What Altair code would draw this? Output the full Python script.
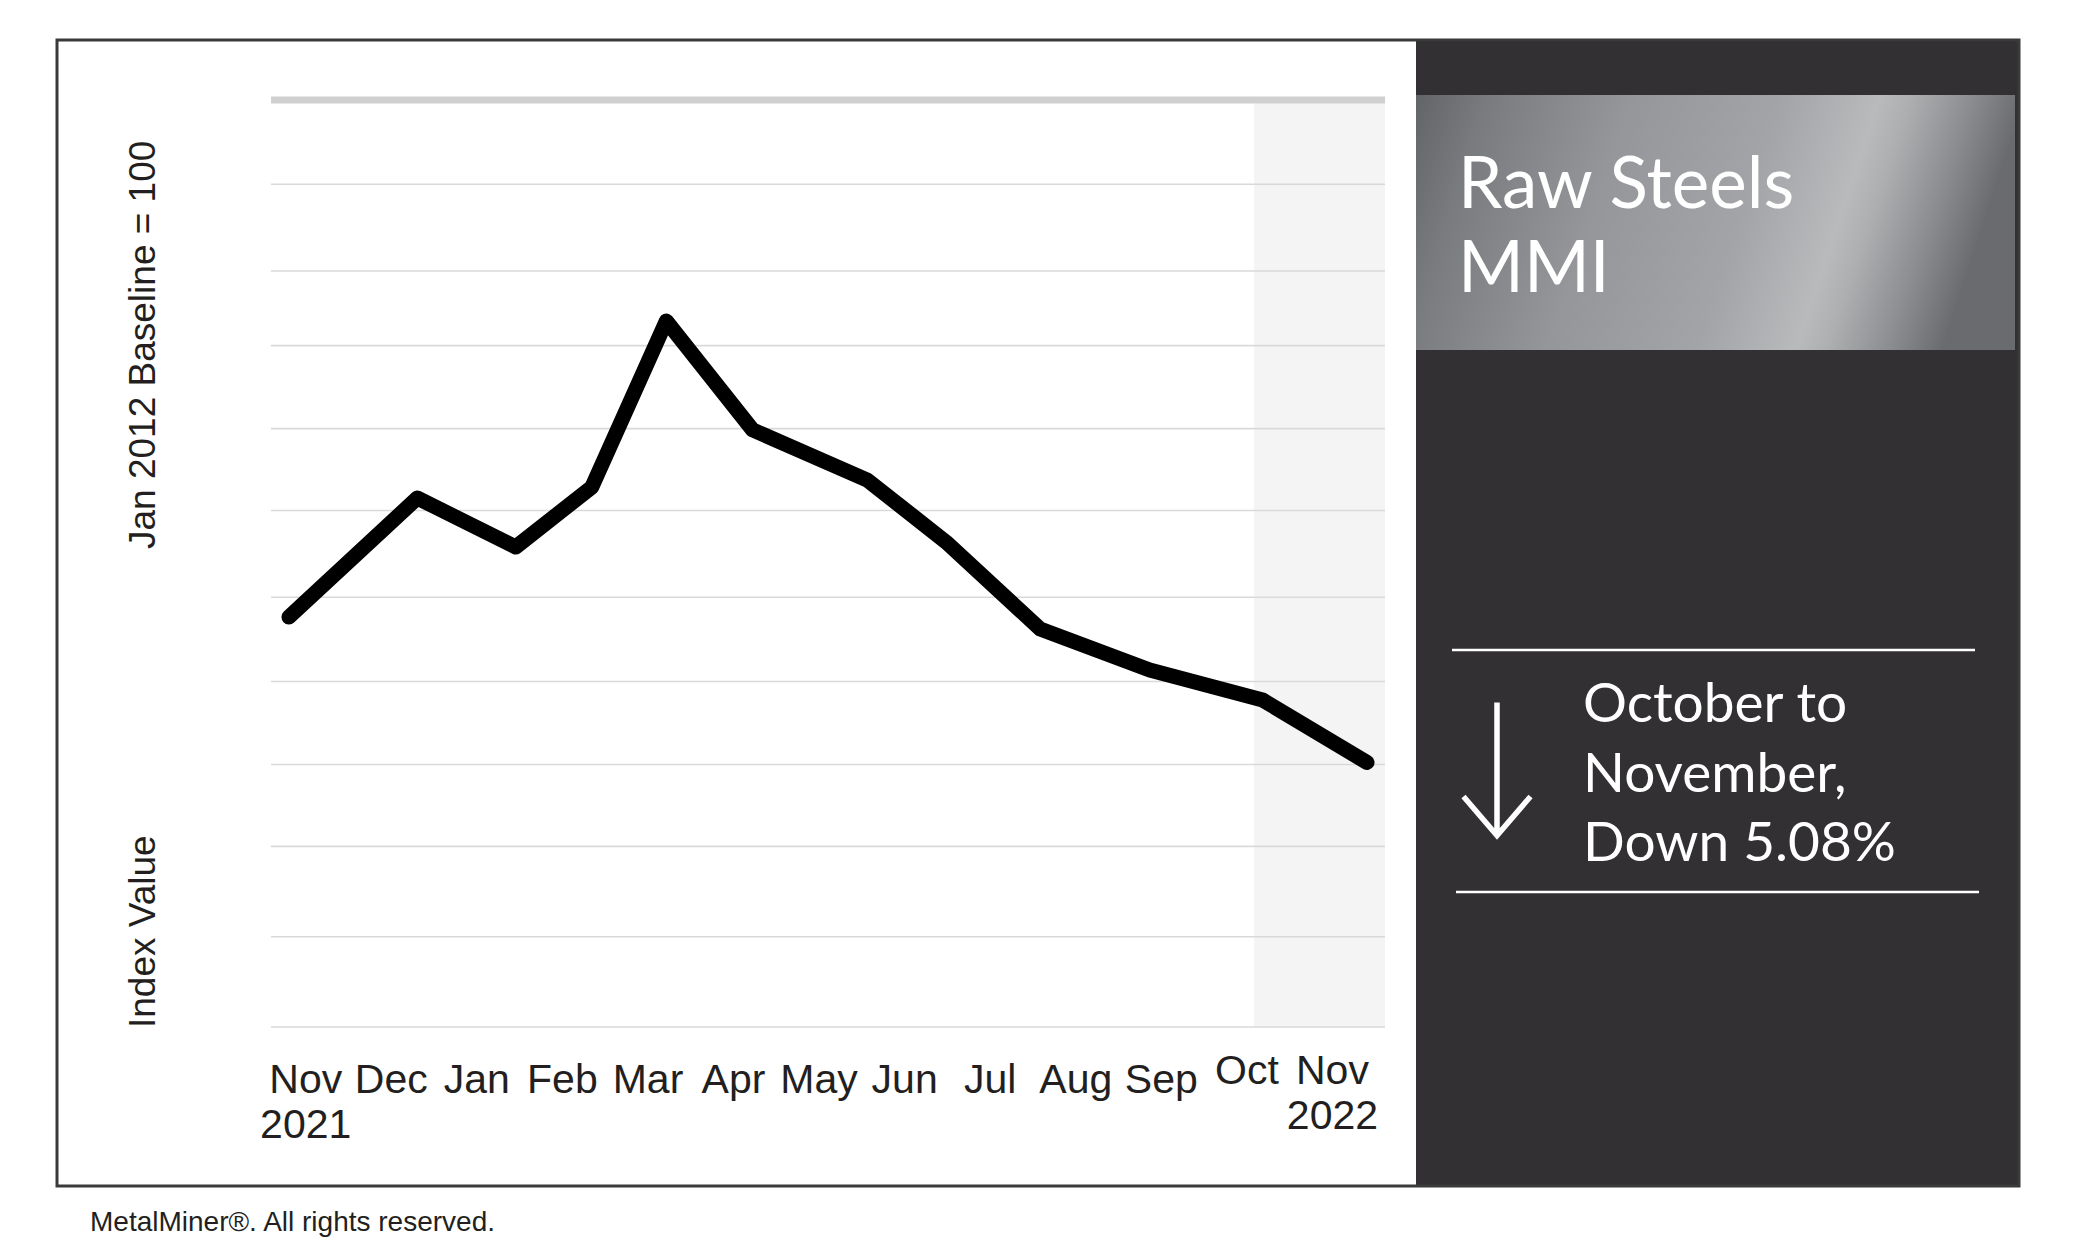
import altair as alt
import pandas as pd

# ---------------- data ----------------
month_labels = ["Nov", "Dec", "Jan", "Feb", "Mar", "Apr", "May", "Jun", "Jul", "Aug", "Sep", "Oct", "Nov"]
year_labels = ["2021", "", "", "", "", "", "", "", "", "", "", "", "2022"]
month_positions = list(range(13))

# line vertices (x in month-label units, y in index units)
line_x = [-0.19, 1.31, 2.46, 3.35, 4.22, 5.23, 6.57, 7.49, 8.59, 9.87, 11.19, 12.41]
line_values = [109.05, 118.94, 114.87, 119.85, 133.64, 124.59, 120.43, 115.28, 108.06, 104.65, 102.16, 96.97]

grid_values = [75, 82.5, 90, 96.8, 103.7, 110.7, 117.9, 124.7, 131.6, 137.8, 145]
top_line_value = 152
x_domain = [-0.4, 12.62]
y_domain = [75, 152]
highlight_start = 11.09

title_lines = ["Raw Steels", "MMI"]
change_lines = ["October to", "November,", "Down 5.08%"]
y_title_top = "Jan 2012 Baseline = 100"
y_title_bottom = "Index Value"
footer_text = "MetalMiner\u00ae. All rights reserved."

# ---------------- layout ----------------
W, H = 1114, 927
PAD = {"left": 271, "top": 100, "right": 688, "bottom": 229}
SANS = "Liberation Sans, Arial, sans-serif"
PANEL_FONT = "Lato, Open Sans, sans-serif"
INK = "#231f20"

xs = alt.Scale(domain=x_domain, nice=False, zero=False)
ys = alt.Scale(domain=y_domain, nice=False, zero=False)

one = pd.DataFrame({"k": [0]})

label_js = "[" + ",".join(
    ("['%s','%s']" % (m, y)) if y else ("'%s'" % m)
    for m, y in zip(month_labels, year_labels)
) + "]"

x_axis = alt.Axis(
    values=month_positions,
    labelExpr=label_js + "[round(datum.value)]",
    title=None, grid=False, ticks=False, tickSize=0, domain=False,
    labelFont=SANS, labelFontSize=41, labelColor=INK,
    labelPadding={"condition": {"test": "datum.value >= 11", "value": 56}, "value": 65},
    labelBaseline="alphabetic", labelLineHeight=45,
    labelFlush=False, labelOverlap=False, labelBound=False, labelAlign="center",
)

# dark side panel
panel = alt.Chart(one).mark_rect(fill="#323033").encode(
    x=alt.value(1145), x2=alt.value(1748), y=alt.value(-60), y2=alt.value(1086)
)

# metallic title band
band = alt.Chart(one).mark_rect(
    fill=alt.Gradient(
        gradient="linear",
        x1=0, y1=0, x2=1, y2=0.14,
        stops=[
            alt.GradientStop(color="#636467", offset=0),
            alt.GradientStop(color="#7a7b7e", offset=0.12),
            alt.GradientStop(color="#95969a", offset=0.35),
            alt.GradientStop(color="#a3a4a7", offset=0.6),
            alt.GradientStop(color="#b9babc", offset=0.76),
            alt.GradientStop(color="#aeafb1", offset=0.81),
            alt.GradientStop(color="#8c8d90", offset=0.91),
            alt.GradientStop(color="#6a6b6e", offset=1),
        ],
    )
).encode(x=alt.value(1145), x2=alt.value(1744), y=alt.value(-5), y2=alt.value(250))

# shaded latest-month region
shade_df = pd.DataFrame({"start": [highlight_start], "end": [x_domain[1]]})
shade = alt.Chart(shade_df).mark_rect(fill="#f3f4f3").encode(
    x=alt.X("start:Q", scale=xs, axis=x_axis), x2="end:Q"
)

grid_df = pd.DataFrame({"value": grid_values})
grid = alt.Chart(grid_df).mark_rule(color="#d9d9d9", strokeWidth=1.6).encode(
    y=alt.Y("value:Q", scale=ys, axis=None)
)

top_df = pd.DataFrame({"value": [top_line_value]})
top_rule = alt.Chart(top_df).mark_rule(color="#d0d0d0", strokeWidth=7).encode(
    y=alt.Y("value:Q", scale=ys, axis=None)
)

line_df = pd.DataFrame({"pos": line_x, "value": line_values})
line = alt.Chart(line_df).mark_line(
    color="#000000", strokeWidth=15, strokeCap="round", strokeJoin="round"
).encode(
    x=alt.X("pos:Q", scale=xs, axis=x_axis),
    y=alt.Y("value:Q", scale=ys, axis=None),
)

title_text = alt.Chart(one).mark_text(
    align="left", baseline="alphabetic", font=PANEL_FONT, fontSize=71,
    color="white", lineBreak="\n", lineHeight=84,
).encode(x=alt.value(1187), y=alt.value(108), text=alt.value("\n".join(title_lines)))

change_text = alt.Chart(one).mark_text(
    align="left", baseline="alphabetic", font=PANEL_FONT, fontSize=55,
    color="white", lineBreak="\n", lineHeight=69.5,
).encode(x=alt.value(1312), y=alt.value(622), text=alt.value("\n".join(change_lines)))

arrow = alt.Chart(one).mark_point(
    shape="M0,-1L0,1M-0.504,0.414L0,1L0.504,0.414",
    size=17689, filled=False, stroke="white", strokeWidth=5.5, opacity=1,
).encode(x=alt.value(1226), y=alt.value(669))

rule_top = alt.Chart(one).mark_rule(color="white", strokeWidth=2.5).encode(
    x=alt.value(1181), x2=alt.value(1704), y=alt.value(550)
)
rule_bottom = alt.Chart(one).mark_rule(color="white", strokeWidth=2.5).encode(
    x=alt.value(1185), x2=alt.value(1708), y=alt.value(792)
)

ytitle_top = alt.Chart(one).mark_text(
    angle=270, align="left", baseline="alphabetic", font=SANS, fontSize=37, color=INK
).encode(x=alt.value(-116), y=alt.value(449), text=alt.value(y_title_top))
ytitle_bottom = alt.Chart(one).mark_text(
    angle=270, align="left", baseline="alphabetic", font=SANS, fontSize=37, color=INK
).encode(x=alt.value(-116), y=alt.value(928), text=alt.value(y_title_bottom))

footer = alt.Chart(one).mark_text(
    align="left", baseline="alphabetic", font=SANS, fontSize=28, color=INK
).encode(x=alt.value(-181), y=alt.value(1131), text=alt.value(footer_text))

frame = alt.Chart(one).mark_rect(fillOpacity=0, stroke="#3a3a3a", strokeWidth=3).encode(
    x=alt.value(-214), x2=alt.value(1748), y=alt.value(-60), y2=alt.value(1086)
)

chart = alt.layer(
    panel, band, shade, grid, top_rule, line, title_text, change_text, arrow,
    rule_top, rule_bottom, ytitle_top, ytitle_bottom, footer, frame,
).properties(
    width=W, height=H,
    autosize=alt.AutoSizeParams(type="none"),
    padding=PAD,
    background="white",
).configure_view(strokeWidth=0)

chart.save("out.html", embed_options={"renderer": "svg", "actions": False})
